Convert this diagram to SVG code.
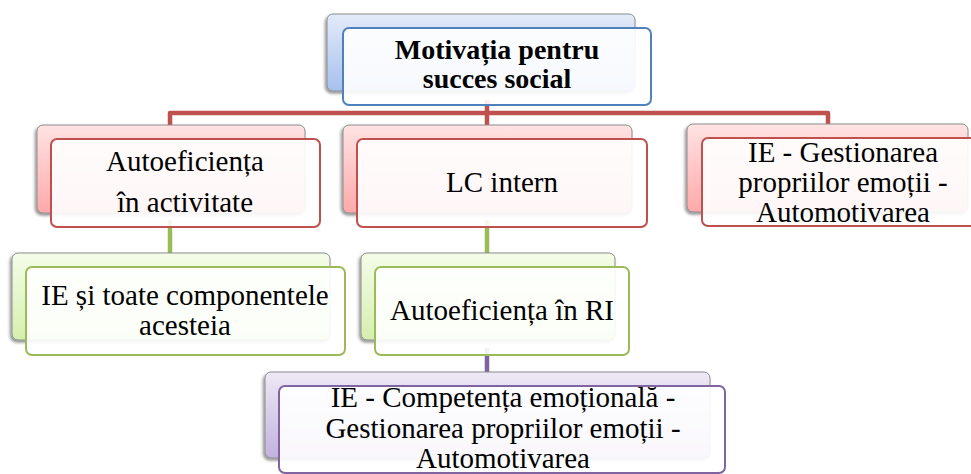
<svg xmlns="http://www.w3.org/2000/svg" width="971" height="474" viewBox="0 0 971 474">
<defs>
<linearGradient id="gBlue" x1="0" y1="0" x2="0" y2="1"><stop offset="0" stop-color="#e3ebf8"/><stop offset="1" stop-color="#a6c0ee"/></linearGradient>
<linearGradient id="gRed" x1="0" y1="0" x2="0" y2="1"><stop offset="0" stop-color="#ffe3e3"/><stop offset="1" stop-color="#ffa9a9"/></linearGradient>
<linearGradient id="gGreen" x1="0" y1="0" x2="0" y2="1"><stop offset="0" stop-color="#f4fde9"/><stop offset="1" stop-color="#d5efae"/></linearGradient>
<linearGradient id="gPurple" x1="0" y1="0" x2="0" y2="1"><stop offset="0" stop-color="#eee9f6"/><stop offset="1" stop-color="#c2b2dd"/></linearGradient>
<filter id="sh" x="-10%" y="-10%" width="120%" height="130%"><feDropShadow dx="-1.5" dy="2" stdDeviation="1.5" flood-color="#000" flood-opacity="0.45"/></filter>
</defs>
<style>
.back{stroke:#8c8c8c;stroke-width:1;filter:url(#sh)}
.front{fill:#ffffff;fill-opacity:0.9;stroke-width:2}
.t{font-family:"Liberation Serif","Times New Roman",serif;font-size:29px;fill:#000;text-anchor:middle}
.b{font-weight:bold;font-size:28px}
.conn{fill:none;stroke-width:4.5;stroke-linejoin:round}
</style>
<g id="connectors">
<path class="conn" stroke="#c0504d" d="M487 100 V127 M170 126 V113 H828 V125"/>
<path class="conn" stroke="#9bbb59" d="M170 220 V254 M487 220 V254"/>
<path class="conn" stroke="#8064a2" d="M487 348 V373"/>
</g>
<g id="root">
<rect class="back" x="327" y="14" width="308" height="77" rx="6" fill="url(#gBlue)"/>
<rect class="front" x="343" y="28" width="308" height="77" rx="6" stroke="#4f81bd"/>
<text class="t b" x="497" y="59">Motivația pentru</text>
<text class="t b" x="497" y="88">succes social</text>
</g>
<g id="n-autoeficienta">
<rect class="back" x="37" y="125" width="268" height="88" rx="6" fill="url(#gRed)"/>
<rect class="front" x="51" y="139" width="269" height="88" rx="6" stroke="#c0504d"/>
<text class="t" x="185" y="171">Autoeficiența</text>
<text class="t" x="185" y="212">în activitate</text>
</g>
<g id="n-lc">
<rect class="back" x="343" y="125" width="289" height="88" rx="6" fill="url(#gRed)"/>
<rect class="front" x="357" y="139" width="290" height="88" rx="6" stroke="#c0504d"/>
<text class="t" x="502" y="192">LC intern</text>
</g>
<g id="n-ie-gest">
<rect class="back" x="687" y="124" width="281" height="88" rx="6" fill="url(#gRed)"/>
<rect class="front" x="702" y="138" width="281" height="88" rx="6" stroke="#c0504d"/>
<text class="t" x="843" y="162">IE - Gestionarea</text>
<text class="t" x="843" y="192">propriilor emoții -</text>
<text class="t" x="843" y="222">Automotivarea</text>
</g>
<g id="n-ie-toate">
<rect class="back" x="12" y="253" width="318" height="87" rx="6" fill="url(#gGreen)"/>
<rect class="front" x="26" y="267" width="319" height="88" rx="6" stroke="#9bbb59"/>
<text class="t" x="185" y="305">IE și toate componentele</text>
<text class="t" x="185" y="335">acesteia</text>
</g>
<g id="n-autoef-ri">
<rect class="back" x="361" y="253" width="254" height="87" rx="6" fill="url(#gGreen)"/>
<rect class="front" x="375" y="267" width="254" height="88" rx="6" stroke="#9bbb59"/>
<text class="t" x="502" y="320">Autoeficiența în RI</text>
</g>
<g id="n-ie-comp">
<rect class="back" x="265" y="372" width="445" height="86" rx="6" fill="url(#gPurple)"/>
<rect class="front" x="279" y="386" width="446" height="87" rx="6" stroke="#8064a2"/>
<text class="t" x="503" y="407">IE - Competența emoțională -</text>
<text class="t" x="503" y="438">Gestionarea propriilor emoții -</text>
<text class="t" x="503" y="468">Automotivarea</text>
</g>
</svg>
